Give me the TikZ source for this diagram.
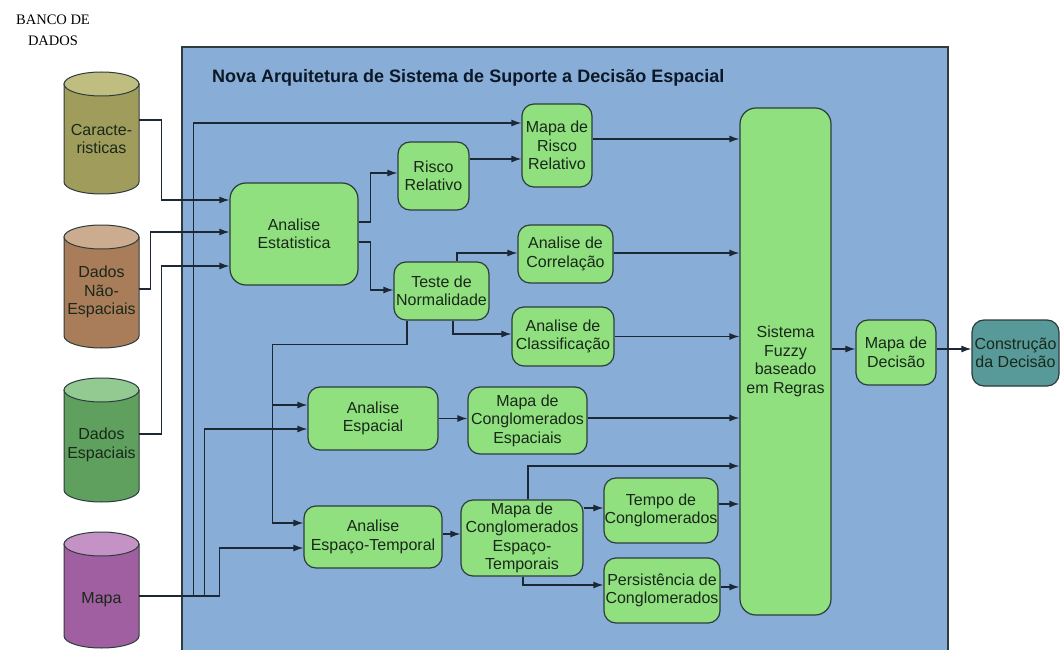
\documentclass[tikz,border=0pt]{standalone}
\usepackage{fontspec}
\setmainfont{Liberation Sans}
\newfontfamily\serifbanco{Liberation Serif}
\usetikzlibrary{arrows.meta}
\definecolor{bgblue}{RGB}{136,173,214}
\definecolor{boxg}{RGB}{144,224,128}
\definecolor{tealbox}{RGB}{88,154,154}
\definecolor{linec}{RGB}{28,40,54}
\definecolor{edgec}{RGB}{45,60,60}
\definecolor{txtc}{RGB}{25,40,25}
\definecolor{olivebody}{RGB}{160,157,92}
\definecolor{olivetop}{RGB}{192,189,128}
\definecolor{brownbody}{RGB}{170,125,90}
\definecolor{browntop}{RGB}{204,172,142}
\definecolor{greenbody}{RGB}{95,160,95}
\definecolor{greentop}{RGB}{146,202,146}
\definecolor{purplebody}{RGB}{160,95,160}
\definecolor{purpletop}{RGB}{196,146,196}
\newcommand\nodefont{\fontsize{16}{18.5}\selectfont}
\newcommand\dbcyl[5]{%
  \filldraw[fill=#4, draw=edgec, line width=1pt] (#1,#2+12) -- (#1,#3-12)
    arc[start angle=180,end angle=360,x radius=37.5pt,y radius=12pt] -- (#1+75,#2+12) -- cycle;
  \filldraw[fill=#5, draw=edgec, line width=1pt] (#1+37.5,#2+12) ellipse[x radius=37.5pt,y radius=12pt];
}
\begin{document}
\begin{tikzpicture}[x=1pt,y=-1pt,
  box/.style={draw=edgec, fill=boxg, rounded corners=12pt, align=center, inner sep=0pt,
     font=\nodefont, text=txtc, line width=1.2pt},
  cyltext/.style={align=center, font=\nodefont, text=txtc, inner sep=0pt},
  arr/.style={draw=linec, line width=1.3pt, -{Latex[length=10pt,width=7pt]}},
  ln/.style={draw=linec, line width=1.3pt}]
\useasboundingbox (0,0) rectangle (1061,650);
\fill[white] (0,0) rectangle (1061,650);
% frame
\draw[fill=bgblue, draw=edgec, line width=1.2pt] (182,47) rectangle (948,680);
\node[anchor=west, font=\bfseries\fontsize{18}{20}\selectfont, text={rgb,255:red,12;green,24;blue,40}, inner sep=0pt] (title) at (212,78) {Nova Arquitetura de Sistema de Suporte a Decisão Espacial};
\node[align=center, font=\serifbanco\fontsize{14.5}{21}\selectfont, inner sep=0pt] (banco) at (53,30) {BANCO DE\\DADOS};
% cylinders
\dbcyl{64}{72}{194}{olivebody}{olivetop}
\dbcyl{64}{225}{348}{brownbody}{browntop}
\dbcyl{64}{378}{502}{greenbody}{greentop}
\dbcyl{64}{532}{648}{purplebody}{purpletop}
\node[cyltext] (car) at (101.5,139) {Caracte-\\risticas};
\node[cyltext] (nes) at (101.5,292) {Dados\\Não-\\Espaciais};
\node[cyltext] (esp) at (101.5,445) {Dados\\Espaciais};
\node[cyltext] (mapa) at (101.5,600) {Mapa};
\coordinate (carE) at (139,120);
\coordinate (nesE) at (139,289);
\coordinate (espE) at (139,434);
\coordinate (mapaE) at (139,596);
% boxes
\node[box, minimum width=128pt, minimum height=102pt, rounded corners=16pt] (AE) at (294,234) {Analise\\Estatistica};
\node[box, minimum width=71pt, minimum height=68pt] (RR) at (433.5,176) {Risco\\Relativo};
\node[box, minimum width=70pt, minimum height=83pt] (MRR) at (557,145.5) {Mapa de\\Risco\\Relativo};
\node[box, minimum width=95pt, minimum height=58pt] (TN) at (441.5,291) {Teste de\\Normalidade};
\node[box, minimum width=95pt, minimum height=58pt] (AC) at (565.5,254) {Analise de\\Correlação};
\node[box, minimum width=102pt, minimum height=59pt] (ACl) at (563,336.5) {Analise de\\Classificação};
\node[box, minimum width=130pt, minimum height=63pt] (AEsp) at (373,418.5) {Analise\\Espacial};
\node[box, minimum width=119pt, minimum height=67pt] (MCE) at (527.5,420.5) {Mapa de\\Conglomerados\\Espaciais};
\node[box, minimum width=138pt, minimum height=62pt] (AET) at (373,537) {Analise\\Espaço-Temporal};
\node[box, minimum width=122pt, minimum height=76pt] (MCET) at (522,538) {Mapa de\\Conglomerados\\Espaço-\\Temporais};
\node[box, minimum width=114pt, minimum height=65pt] (TC) at (661,510.5) {Tempo de\\Conglomerados};
\node[box, minimum width=116pt, minimum height=65pt] (PC) at (662,590.5) {Persistência de\\Conglomerados};
\node[box, minimum width=91pt, minimum height=507pt, rounded corners=16pt] (SF) at (785.5,361.5) {Sistema\\Fuzzy\\baseado\\em Regras};
\node[box, minimum width=80pt, minimum height=65pt] (MD) at (896,352.5) {Mapa de\\Decisão};
\node[box, fill=tealbox, minimum width=87pt, minimum height=66pt] (CD) at (1015.5,353) {Construção\\da Decisão};
% connectors from data banks
\draw[arr] (carE) -| ([xshift=-68pt,yshift=34pt]AE.west) -- ([yshift=34pt]AE.west);
\draw[arr] (nesE) -| ([xshift=-79pt,yshift=2pt]AE.west) -- ([yshift=2pt]AE.west);
\draw[arr] (espE) -| ([xshift=-68pt,yshift=-32pt]AE.west) -- ([yshift=-32pt]AE.west);
\draw[arr] (mapaE) -| ([xshift=-84pt,yshift=-11pt]AET.west) -- ([yshift=-11pt]AET.west);
\draw[arr] (mapaE) -| ([xshift=-103pt,yshift=-10.5pt]AEsp.west) -- ([yshift=-10.5pt]AEsp.west);
\draw[arr] (mapaE) -| ([xshift=-328pt,yshift=22.5pt]MRR.west) -- ([yshift=22.5pt]MRR.west);
% teste de normalidade feedback
\draw[arr] ([xshift=-34.5pt]TN.south) -- ++(0,24) -| ([xshift=-31pt,yshift=14pt]AET.west) -- ([yshift=14pt]AET.west);
\draw[arr] ([xshift=-35pt,yshift=13.5pt]AEsp.west) -- ([yshift=13.5pt]AEsp.west);
% analise estatistica outputs
\draw[arr] ([yshift=12pt]AE.east) -| ([xshift=-27pt,yshift=3pt]RR.west) -- ([yshift=3pt]RR.west);
\draw[arr] ([yshift=-8pt]AE.east) -| ([xshift=-23pt,yshift=1pt]TN.west) -- ([yshift=1pt]TN.west);
\draw[arr] ([yshift=17pt]RR.east) -- ([yshift=17pt]RR.east -| MRR.west);
\draw[arr] ([yshift=6.5pt]MRR.east) -- ([yshift=6.5pt]MRR.east -| SF.west);
\draw[arr] ([xshift=15.5pt]TN.north) |- ([yshift=1pt]AC.west);
\draw[arr] ([xshift=11.5pt]TN.south) |- ([yshift=2.5pt]ACl.west);
\draw[arr] ([yshift=1pt]AC.east) -- ([yshift=1pt]AC.east -| SF.west);
\draw[arr] (ACl.east) -- (ACl.east -| SF.west);
\draw[arr] (AEsp.east) -- (AEsp.east -| MCE.west);
\draw[arr] ([yshift=2.5pt]MCE.east) -- ([yshift=2.5pt]MCE.east -| SF.west);
\draw[arr] ([yshift=3pt]AET.east) -- ([yshift=3pt]AET.east -| MCET.west);
\draw[arr] ([xshift=6pt]MCET.north) |- ([yshift=-104.5pt]SF.west);
\draw[arr] ([yshift=30pt]MCET.east) -- ([yshift=30pt]MCET.east -| TC.west);
\draw[arr] ([xshift=1pt]MCET.south) |- ([yshift=5.5pt]PC.west);
\draw[arr] ([yshift=6.5pt]TC.east) -- ([yshift=6.5pt]TC.east -| SF.west);
\draw[arr] ([yshift=3.5pt]PC.east) -- ([yshift=3.5pt]PC.east -| SF.west);
\draw[arr] ([yshift=12.5pt]SF.east) -- ([yshift=12.5pt]SF.east -| MD.west);
\draw[arr] ([yshift=3.5pt]MD.east) -- ([yshift=3.5pt]MD.east -| CD.west);
\end{tikzpicture}
\end{document}
